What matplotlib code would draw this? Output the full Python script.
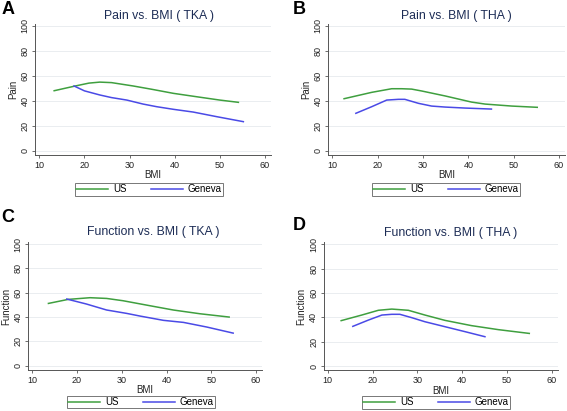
import matplotlib
matplotlib.use("Agg")
import matplotlib.pyplot as plt
import numpy as np

plt.rcParams['font.family'] = ['Liberation Sans', 'DejaVu Sans']

# ---- Data ----
# Panel A: Pain vs BMI (TKA)
a_us_bmi = [13.3, 16.0, 18.5, 21.0, 23.4, 26.0, 30.8, 35.0, 39.7, 45.0, 50.0, 54.1]
a_us_val = [48.1, 50.3, 52.3, 54.2, 55.0, 54.6, 51.9, 49.2, 46.0, 43.2, 40.6, 38.8]
a_ge_bmi = [17.7, 20.0, 23.4, 26.0, 29.4, 33.0, 36.0, 39.7, 44.1, 49.3, 55.2]
a_ge_val = [51.9, 48.0, 44.7, 42.6, 40.6, 37.4, 35.3, 33.2, 31.0, 27.3, 23.3]

# Panel B: Pain vs BMI (THA)
b_us_bmi = [12.6, 18.7, 23.1, 25.3, 27.5, 29.7, 34.9, 40.7, 43.7, 49.6, 55.2]
b_us_val = [41.7, 46.8, 49.7, 49.7, 49.4, 47.9, 43.9, 39.0, 37.4, 35.8, 34.8]
b_ge_bmi = [15.2, 18.7, 22.0, 24.6, 26.0, 29.0, 31.9, 34.9, 39.3, 45.1]
b_ge_val = [30.0, 35.3, 40.6, 41.2, 41.2, 38.0, 35.8, 35.0, 34.2, 33.4]

# Panel C: Function vs BMI (TKA)
c_us_bmi = [13.6, 18.0, 22.9, 26.6, 30.3, 36.3, 41.5, 47.5, 54.0]
c_us_val = [51.2, 54.5, 55.9, 55.3, 53.4, 49.3, 45.8, 42.7, 40.0]
c_ge_bmi = [17.7, 22.1, 26.6, 31.1, 34.1, 39.3, 43.8, 49.0, 54.9]
c_ge_val = [54.8, 50.7, 45.8, 43.0, 40.8, 37.3, 35.6, 31.8, 26.8]

# Panel D: Function vs BMI (THA)
d_us_bmi = [13.0, 17.6, 21.3, 24.3, 28.0, 31.7, 36.2, 42.1, 48.1, 55.0]
d_us_val = [37.3, 41.9, 45.8, 46.8, 45.8, 41.9, 37.5, 33.2, 29.9, 26.8]
d_ge_bmi = [15.6, 19.1, 22.1, 24.3, 26.1, 28.8, 31.7, 36.2, 40.7, 45.1]
d_ge_val = [32.6, 37.8, 41.9, 42.5, 42.5, 39.7, 36.4, 32.3, 28.2, 24.1]

series_names = ["US", "Geneva"]
titles = ["Pain vs. BMI ( TKA )", "Pain vs. BMI ( THA )",
          "Function vs. BMI ( TKA )", "Function vs. BMI ( THA )"]
ylabels = ["Pain", "Pain", "Function", "Function"]
letters = ["A", "B", "C", "D"]
xticks = [10, 20, 30, 40, 50, 60]
yticks = [0, 20, 40, 60, 80, 100]

panels = [
    (a_us_bmi, a_us_val, a_ge_bmi, a_ge_val),
    (b_us_bmi, b_us_val, b_ge_bmi, b_ge_val),
    (c_us_bmi, c_us_val, c_ge_bmi, c_ge_val),
    (d_us_bmi, d_us_val, d_ge_bmi, d_ge_val),
]

W, H = 567, 411
fig = plt.figure(figsize=(W / 100, H / 100), dpi=100)
fig.patch.set_facecolor("white")

# axes boxes in pixels: left, top, right, bottom
boxes = [(35.2, 24.1, 270.9, 155.1),
         (328.2, 24.1, 564.9, 155.1),
         (28.3, 242.2, 261.8, 370.0),
         (323.7, 242.5, 557.5, 370.3)]
title_pos = [(159, 15.7), (456, 15.5), (153, 231.7), (451, 233)]
letter_pos = [(2, 10), (293, 10), (1, 217), (293, 225)]
# legend box centre (x) and top (y) in pixels
legend_pos = [(149, 183), (446, 183), (141, 395.5), (436, 396)]

US_COLOR = "#3f9f3f"
GE_COLOR = "#4a4ae6"
TITLE_COLOR = "#1c2c55"
AX_COLOR = "#555555"

for i, (ub, uv, gb, gv) in enumerate(panels):
    l, t, r, b = boxes[i]
    ax = fig.add_axes([l / W, 1 - b / H, (r - l) / W, (b - t) / H])
    h1, = ax.plot(ub, uv, color=US_COLOR, lw=1.1, label=series_names[0])
    h2, = ax.plot(gb, gv, color=GE_COLOR, lw=1.1, label=series_names[1])
    ax.set_xlim(9.1, 61.3)
    ax.set_ylim(-3.5, 101.5)
    ax.set_xticks(xticks)
    ax.set_yticks(yticks)
    ax.set_yticklabels([str(v) for v in yticks], rotation=90, va="center")
    ax.tick_params(axis="both", labelsize=6.5, length=2.5, width=0.6,
                   color=AX_COLOR, labelcolor="#222222", pad=1.5)
    for s in ["top", "right"]:
        ax.spines[s].set_visible(False)
    for s in ["left", "bottom"]:
        ax.spines[s].set_color(AX_COLOR)
        ax.spines[s].set_linewidth(0.7)
    ax.grid(axis="y", color="#e6eaee", lw=0.6)
    ax.set_axisbelow(True)
    ax.set_xlabel("BMI", fontsize=7, labelpad=0.5, color="#222222")
    ax.set_ylabel(ylabels[i], fontsize=7, labelpad=2, color="#222222")
    lx, ly = legend_pos[i]
    leg = fig.legend(handles=[h1, h2], loc="upper center",
                     bbox_to_anchor=(lx / W, 1 - ly / H), ncol=2,
                     fontsize=7, frameon=True, fancybox=False, handlelength=3.3,
                     columnspacing=2.5, borderpad=0.15, handletextpad=0.5,
                     borderaxespad=0, edgecolor="#555555")
    leg.get_frame().set_linewidth(0.7)
    fig.text(title_pos[i][0] / W, 1 - title_pos[i][1] / H, titles[i],
             ha="center", va="center", fontsize=8.8, color=TITLE_COLOR)
    fig.text(letter_pos[i][0] / W, 1 - letter_pos[i][1] / H, letters[i],
             ha="left", va="center", fontsize=13, fontweight="bold", color="black")

fig.savefig("out.png", dpi=100, facecolor="white")
